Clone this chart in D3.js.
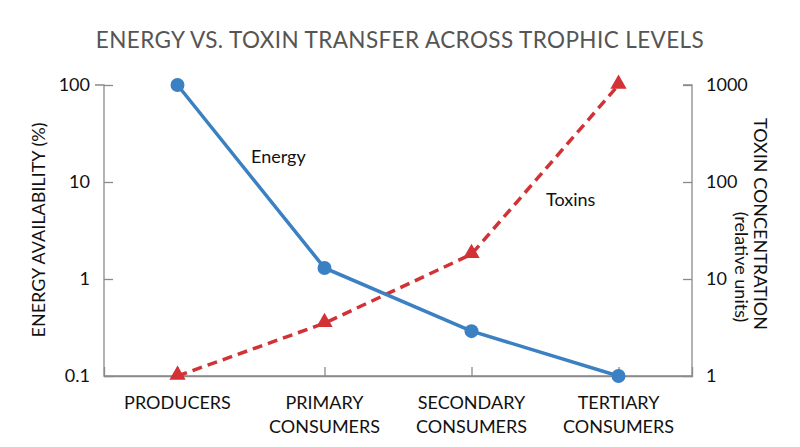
<!DOCTYPE html>
<html><head><meta charset="utf-8">
<script src="https://cdn.jsdelivr.net/npm/d3@7"></script>
<style>body{margin:0;background:#fff;} svg{display:block;}</style>
</head><body>
<svg id="c" width="800" height="447"></svg>
<script>
const categories = [["PRODUCERS"], ["PRIMARY","CONSUMERS"], ["SECONDARY","CONSUMERS"], ["TERTIARY","CONSUMERS"]];
const energyValues = [100, 1.3, 0.29, 0.1];
const toxinValues = [1, 3.5, 18, 1000];
const energyTicks = [0.1, 1, 10, 100];
const toxinTicks = [1, 10, 100, 1000];

const svg = d3.select("#c");
const font = "Lato, 'Open Sans', sans-serif";
const L = 104, R = 692, T = 85, B = 376;
const blue = "#3b80c2", red = "#d23235", axisCol = "#8a8a8a";
const fs = 18;

const x = d3.scalePoint().domain(d3.range(categories.length)).range([L, R]).padding(0.5);
const yE = d3.scaleLog().domain([0.1, 100]).range([B, T]);
const yT = d3.scaleLog().domain([1, 1000]).range([B, T]);

svg.append("text").attr("x", 400).attr("y", 48).attr("text-anchor", "middle")
  .attr("font-family", font).attr("font-size", 22.5).attr("fill", "#555").attr("letter-spacing", 0.4)
  .text("ENERGY VS. TOXIN TRANSFER ACROSS TROPHIC LEVELS");

// axes
const left = svg.append("g").attr("transform", `translate(${L},0)`)
  .call(d3.axisLeft(yE).tickValues(energyTicks).tickFormat(d => d3.format("~g")(d)).tickSize(-9).tickPadding(14));
const right = svg.append("g").attr("transform", `translate(${R},0)`)
  .call(d3.axisRight(yT).tickValues(toxinTicks).tickFormat(d => d3.format("d")(d)).tickSize(-9).tickPadding(14));
const bottom = svg.append("g").attr("transform", `translate(0,${B})`)
  .call(d3.axisBottom(x).tickSize(-9).tickFormat(""));
[left, right, bottom].forEach(g => {
  g.select(".domain").attr("stroke", axisCol).attr("stroke-width", 1.3);
  g.selectAll(".tick line").attr("stroke", axisCol).attr("stroke-width", 1.3);
  g.selectAll(".tick text").attr("font-family", font).attr("font-size", fs).attr("fill", "#111");
});
left.select(".domain").attr("d", `M-9,${T}H0V${B}H${R-L}`);
right.select(".domain").attr("d", `M-9,${T}H0V${B}`);

// category labels
categories.forEach((lines, i) => {
  const t = svg.append("text").attr("text-anchor", "middle").attr("font-family", font)
    .attr("font-size", fs).attr("fill", "#111");
  lines.forEach((ln, j) => t.append("tspan").attr("x", x(i)).attr("y", 409 + j * 24).text(ln));
});

// axis titles
svg.append("text").attr("transform", `translate(45,230) rotate(-90)`).attr("text-anchor", "middle")
  .attr("font-family", font).attr("font-size", fs).attr("fill", "#111").text("ENERGY AVAILABILITY (%)");
svg.append("text").attr("transform", `translate(754,224) rotate(90)`).attr("text-anchor", "middle")
  .attr("font-family", font).attr("font-size", fs).attr("fill", "#111").text("TOXIN CONCENTRATION");
svg.append("text").attr("transform", `translate(735,267) rotate(90)`).attr("text-anchor", "middle")
  .attr("font-family", font).attr("font-size", fs).attr("fill", "#111").text("(relative units)");

// toxins line
const lineT = d3.line().x((d, i) => x(i)).y(d => yT(d));
svg.append("path").datum(toxinValues).attr("d", lineT).attr("fill", "none")
  .attr("stroke", red).attr("stroke-width", 3.5).attr("stroke-dasharray", "10,6");
svg.selectAll(".tri").data(toxinValues).enter().append("path")
  .attr("transform", (d, i) => `translate(${x(i)},${yT(d) - 1})`)
  .attr("d", d3.symbol().type(d3.symbolTriangle).size(115)).attr("fill", red);

// energy line
const lineE = d3.line().x((d, i) => x(i)).y(d => yE(d));
svg.append("path").datum(energyValues).attr("d", lineE).attr("fill", "none")
  .attr("stroke", blue).attr("stroke-width", 3.5);
svg.selectAll(".dot").data(energyValues).enter().append("circle")
  .attr("cx", (d, i) => x(i)).attr("cy", d => yE(d)).attr("r", 7).attr("fill", blue);

svg.append("text").attr("x", 251).attr("y", 163).attr("font-family", font).attr("font-size", fs)
  .attr("fill", "#111").text("Energy");
svg.append("text").attr("x", 546).attr("y", 206).attr("font-family", font).attr("font-size", fs)
  .attr("fill", "#111").text("Toxins");
</script>
</body></html>
